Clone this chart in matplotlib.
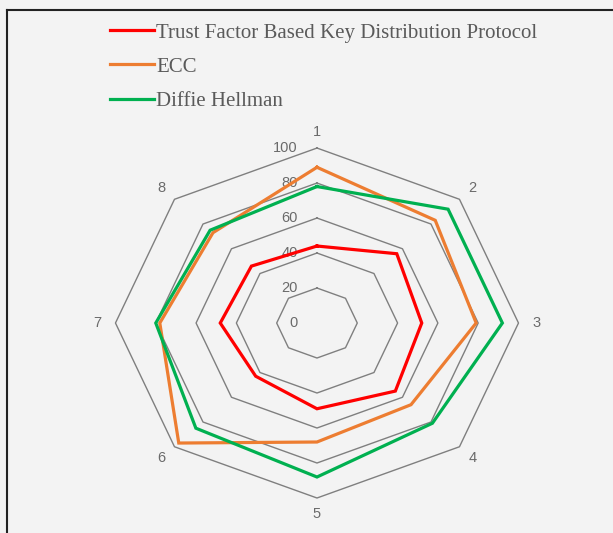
import matplotlib.pyplot as plt
import numpy as np
from matplotlib.lines import Line2D

categories = ['1', '2', '3', '4', '5', '6', '7', '8']
trust = [44, 56, 52, 55, 49, 43, 48, 46]
ecc = [89, 83, 79, 66, 68, 97, 78, 73]
dh = [78, 92, 92, 81, 88, 85, 80, 75]
rings = [20, 40, 60, 80, 100]
ring_labels = ['0', '20', '40', '60', '80', '100']
series_names = ['Trust Factor Based Key Distribution Protocol', 'ECC', 'Diffie Hellman']

colors = ['#ff0000', '#ed7d31', '#00b050']
grid_col = '#7f7f7f'
text_col = '#6a6a6a'

theta = np.arange(len(categories)) * 2 * np.pi / len(categories)


def to_xy(vals):
    vals = np.asarray(vals, dtype=float)
    x = vals * np.sin(theta)
    y = vals * np.cos(theta)
    return np.append(x, x[0]), np.append(y, y[0])


fig = plt.figure(figsize=(6.13, 5.33), dpi=100, facecolor='#f3f3f3')
ax = fig.add_axes([0, 0, 1, 1])
ax.set_facecolor('#f3f3f3')
ax.set_xlim(-157.3, 146.9)
ax.set_ylim(-120.0, 184.6)
ax.axis('off')

# octagon gridlines
for r in rings:
    gx, gy = to_xy([r] * len(categories))
    ax.plot(gx, gy, color=grid_col, lw=1.0, zorder=1)

# value labels along the top spoke
for i, lab in enumerate(ring_labels):
    ax.text(-9.5, i * 20, lab, ha='right', va='center', fontsize=10.5,
            color=text_col, family='Liberation Sans', zorder=2)

# category labels
for t, lab in zip(theta, categories):
    ax.text(109 * np.sin(t), 109 * np.cos(t), lab, ha='center', va='center',
            fontsize=10.5, color=text_col, family='Liberation Sans')

handles = []
for vals, c, name in zip([trust, ecc, dh], colors, series_names):
    sx, sy = to_xy(vals)
    h, = ax.plot(sx, sy, color=c, lw=2.3, zorder=3, label=name,
                 solid_joinstyle='miter')
    handles.append(h)

leg = fig.legend(handles=handles, loc='upper left', bbox_to_anchor=(0.149, 0.992),
                 frameon=False, handlelength=2.1, handletextpad=0.1,
                 labelspacing=0.7, prop={'family': 'Liberation Serif', 'size': 15})
for t in leg.get_texts():
    t.set_color('#5a5a5a')

# outer frame (left and top edges visible)
fig.add_artist(Line2D([7 / 613, 7 / 613], [0, 1 - 10 / 533], color='#222222', lw=1.5))
fig.add_artist(Line2D([7 / 613, 1], [1 - 10 / 533, 1 - 10 / 533], color='#222222', lw=1.5))

fig.savefig('out.png', dpi=100, facecolor=fig.get_facecolor())
